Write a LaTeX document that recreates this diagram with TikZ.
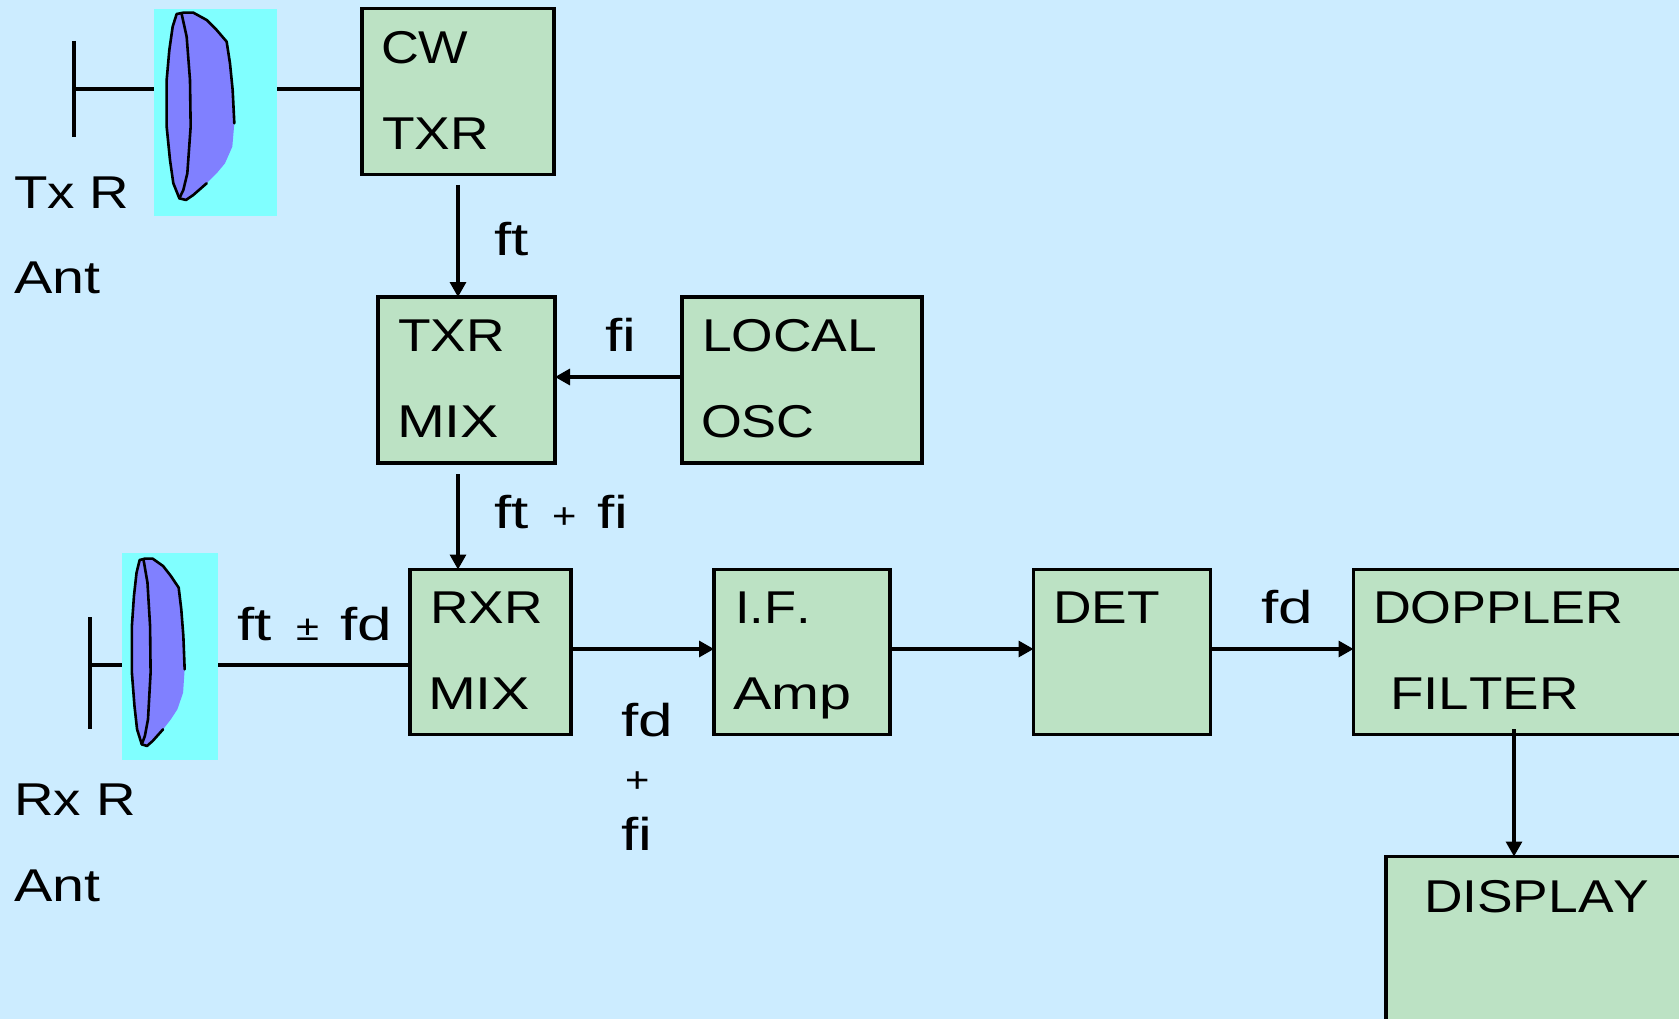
\documentclass[tikz,border=0pt]{standalone}
\usepackage{fontspec}
\setmainfont[Kerning=Off]{Liberation Sans}
\newfontfamily\ffa[FakeStretch=1.14,Kerning=Off]{Liberation Sans}
\newfontfamily\ffb[FakeStretch=1.16,Kerning=Off]{Liberation Sans}
\newfontfamily\ffc[FakeStretch=1.19,Kerning=Off]{Liberation Sans}
\newfontfamily\ffd[FakeStretch=1.25,Kerning=Off]{Liberation Sans}
\newfontfamily\ffe[FakeStretch=1.35,Kerning=Off]{Liberation Sans}
\usetikzlibrary{arrows.meta}
\definecolor{bgblue}{HTML}{CCECFF}
\definecolor{boxgreen}{HTML}{BCE2C4}
\definecolor{antcyan}{HTML}{80FFFF}
\definecolor{antblue}{HTML}{8080FF}
\tikzset{
  x=1pt,y=-1pt,
  blockbox/.style={draw=black,line width=3.05pt,fill=boxgreen,anchor=north west,inner sep=0pt,outer sep=0pt},
  antbox/.style={fill=antcyan,anchor=north west,inner sep=0pt,outer sep=0pt},
  lbl/.style={anchor=base west,inner sep=0pt,outer sep=0pt,text=black,font=\fontsize{46}{46}\selectfont},
  sym/.style={anchor=base west,inner sep=0pt,outer sep=0pt,text=black,font=\ffb\fontsize{36}{36}\selectfont},
  wire/.style={line width=3.2pt,draw=black},
  arr/.style={wire,-{Triangle[length=15pt,width=16pt]}},
  dish/.pic={
    \fill[antblue] (88,11)--(118,11)--(158,33)--(188,63)--(218,98)--(228,163)--(236,243)--(241,343)--(235,413)--(213,463)--(188,493)--(158,523)--(118,558)--(96,573)--(76,568)--(58,523)--(48,453)--(38,353)--(38,213)--(46,123)--(56,53)--(68,15)--cycle;
    \draw[black,line width=2.6pt,line join=round,line cap=round] (158,523)--(118,558)--(96,573)--(76,568)--(58,523)--(48,453)--(38,353)--(38,213)--(46,123)--(56,53)--(68,15)--(88,11)--(118,11)--(158,33)--(188,63)--(218,98)--(228,163)--(236,243)--(241,343);
    \draw[black,line width=2.6pt,line join=round,line cap=round] (83,15)--(98,83)--(108,213)--(110,353)--(100,493)--(88,543)--(76,568);
  }
}
\begin{document}
\begin{tikzpicture}
\useasboundingbox (0,0) rectangle (1679,1019);
\fill[bgblue] (0,0) rectangle (1679,1019);

% free ends and routing positions
\coordinate (txdipole) at (74,89);
\coordinate (txtop) at (74,41);
\coordinate (txbot) at (74,137);
\coordinate (rxdipole) at (90,665);
\coordinate (rxtop) at (90,617);
\coordinate (rxbot) at (90,729);
\coordinate (xcol) at (458,0);
\coordinate (xdisp) at (1514,0);
\coordinate (cwout) at (458,185);
\coordinate (mixout) at (458,474);
\coordinate (filtout) at (1514,729);
\coordinate (yrow) at (0,649);
\coordinate (ylo) at (0,377);

% antennas
\node[antbox,minimum width=123pt,minimum height=207pt] (txant) at (154,9) {};
\node[antbox,minimum width=96pt,minimum height=207pt] (rxant) at (122,553) {};
\pic[xscale=0.3333,yscale=0.3333] at (154,9) {dish};
\pic[xscale=0.26,yscale=0.3333] at (122,555) {dish};

% blocks
\node[blockbox,minimum width=192pt,minimum height=166pt] (cw) at (362,8.5) {};
\node[blockbox,minimum width=177pt,minimum height=166pt] (txmix) at (378,297) {};
\node[blockbox,minimum width=240pt,minimum height=166pt] (local) at (682,297) {};
\node[blockbox,minimum width=161pt,minimum height=165pt] (rxmix) at (410,569.5) {};
\node[blockbox,minimum width=176pt,minimum height=165pt] (ifamp) at (714,569.5) {};
\node[blockbox,minimum width=177pt,minimum height=165pt] (det) at (1033.5,569.5) {};
\node[blockbox,minimum width=400pt,minimum height=165pt] (filter) at (1353.5,569.5) {};
\node[blockbox,minimum width=400pt,minimum height=300pt] (display) at (1386,856.5) {};

% connectors
\draw[wire] (txtop) -- (txbot);
\draw[wire] (txdipole) -- (txant.west |- txdipole);
\draw[wire] (txant.east |- txdipole) -- (cw.west |- txdipole);
\draw[wire] (rxtop) -- (rxbot);
\draw[wire] (rxdipole) -- (rxant.west |- rxdipole);
\draw[wire] (rxant.east |- rxdipole) -- (rxmix.west |- rxdipole);
\draw[arr] (cwout) -- (txmix.north -| xcol);
\draw[arr] (local.west |- ylo) -- (txmix.east |- ylo);
\draw[arr] (mixout) -- (rxmix.north -| xcol);
\draw[arr] (rxmix.east |- yrow) -- (ifamp.west |- yrow);
\draw[arr] (ifamp.east |- yrow) -- (det.west |- yrow);
\draw[arr] (det.east |- yrow) -- (filter.west |- yrow);
\draw[arr] (filtout) -- (display.north -| xdisp);

% texts
\node[lbl] (t1) at (381,64) {\ffa CW};
\node[lbl] (t2) at (382,150) {\ffb TXR};
\node[lbl] (t3) at (14,209) {\ffc Tx R};
\node[lbl] (t4) at (14,293) {\ffd Ant};
\node[lbl] (t5) at (494,255) {\ffe ft};
\node[lbl] (t6) at (398,351) {\ffb TXR};
\node[lbl] (t7) at (397,437) {\ffd MIX};
\node[lbl] (t8) at (605,351) {\ffe fi};
\node[lbl] (t9) at (702,351) {\ffb LOCAL};
\node[lbl] (t10) at (701,437) {\ffa OSC};
\node[lbl] (t11) at (494,528) {\ffe ft};
\node[sym] (t12) at (552,528) {+};
\node[lbl] (t13) at (597,528) {\ffe fi};
\node[lbl] (t14) at (237,640) {\ffe ft};
\node[sym] (t15) at (296,640) {±};
\node[lbl] (t16) at (340,640) {\ffe fd};
\node[lbl] (t17) at (430,623) {\ffb RXR};
\node[lbl] (t18) at (428,709) {\ffd MIX};
\node[lbl] (t19) at (735,623) {\ffa I.F.};
\node[lbl] (t20) at (733,709) {\ffd Amp};
\node[lbl] (t21) at (1053,623) {\ffb DET};
\node[lbl] (t22) at (1261,623) {\ffe fd};
\node[lbl] (t23) at (1373,623) {\ffa DOPPLER};
\node[lbl] (t24) at (1390,709) {\ffc FILTER};
\node[lbl] (t25) at (621,736) {\ffe fd};
\node[sym] (t26) at (625,792) {+};
\node[lbl] (t27) at (621,850) {\ffe fi};
\node[lbl] (t28) at (14,815) {\ffc Rx R};
\node[lbl] (t29) at (14,901) {\ffd Ant};
\node[lbl] (t30) at (1424,912) {\ffb DISPLAY};
\end{tikzpicture}
\end{document}
